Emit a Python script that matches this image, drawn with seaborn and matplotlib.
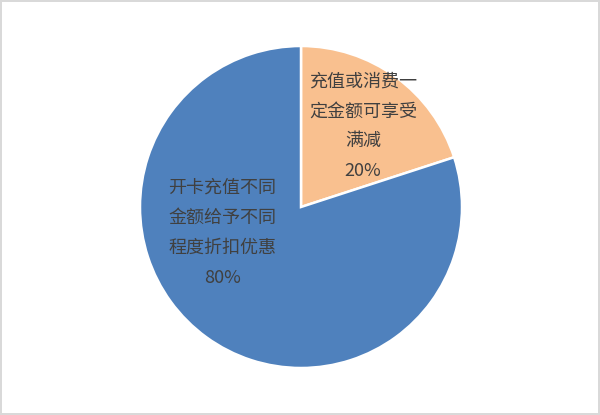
import matplotlib
matplotlib.use("Agg")
import matplotlib.pyplot as plt
import seaborn as sns

categories = ['充值或消费一\n定金额可享受\n满减', '开卡充值不同\n金额给予不同\n程度折扣优惠']
values = [20, 80]
colors = ['#F9C08F', '#4F81BD']

sns.set_theme(style='white')
plt.rcParams['font.family'] = ['Noto Sans CJK SC', 'DejaVu Sans']

fig = plt.figure(figsize=(6, 4.15), dpi=100)
fig.patch.set_edgecolor('#D9D9D9')
fig.patch.set_linewidth(1.5)

ax = fig.add_axes([140 / 600, 47 / 415, 322 / 600, 322 / 415])
wedges, _ = ax.pie(values, colors=colors, startangle=90, counterclock=False,
                   radius=1.0, wedgeprops=dict(edgecolor='white', linewidth=1.8))
ax.set_xlim(-1, 1)
ax.set_ylim(-1, 1)
ax.set_aspect('equal')
ax.axis('off')

label_pos = [(0.385, 0.50), (-0.49, -0.16)]
for (x, y), cat, v in zip(label_pos, categories, values):
    ax.text(x, y, f'{cat}\n{v}%', ha='center', va='center', fontsize=13,
            color='#404040', linespacing=1.85)

fig.savefig('out.png', dpi=100)
